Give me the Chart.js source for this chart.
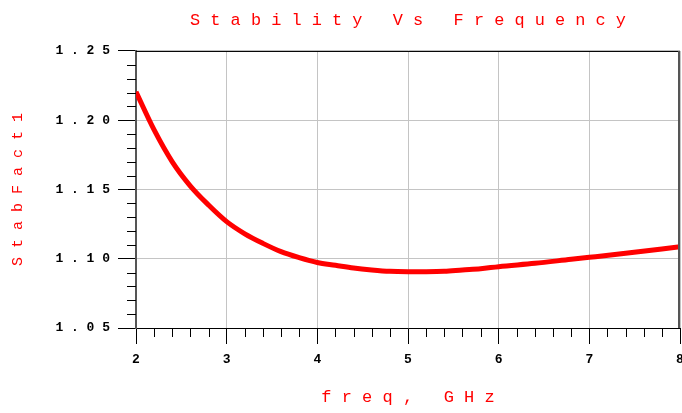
<!DOCTYPE html>
<html>
<head>
<meta charset="utf-8">
<script src="https://cdn.jsdelivr.net/npm/chart.js@4"></script>
<style>
  body { margin: 0; background: #fff; }
  #wrap { width: 682px; height: 413px; }
</style>
</head>
<body>
<div id="wrap"><canvas id="graficoStab"></canvas></div>
<script>
const titulo = 'Stability Vs Frequency';
const tituloX = 'freq, GHz';
const tituloY = 'StabFact1';

const freq = [2.0, 2.2, 2.4, 2.6, 2.8, 3.0, 3.2, 3.4, 3.6, 3.8, 4.0, 4.2, 4.4, 4.6, 4.8,
              5.0, 5.2, 5.4, 5.6, 5.8, 6.0, 6.4, 6.8, 7.0, 7.4, 8.0];
const stabFact1 = [1.2205, 1.1930, 1.1700, 1.1525, 1.1388, 1.1268, 1.1180, 1.1111, 1.1051, 1.1008,
                   1.0973, 1.0953, 1.0933, 1.0919, 1.0909, 1.0907, 1.0907, 1.0909, 1.0919, 1.0928,
                   1.0943, 1.0967, 1.0996, 1.1010, 1.1039, 1.1087];

const xMin = 2, xMax = 8, xStep = 1, xMinor = 0.2;
const yMin = 1.05, yMax = 1.25, yStep = 0.05, yMinor = 0.01;

// espaça as letras como no original
const espaca = s => s.split('').join(' ');

// ticks menores + bordas de cima e da direita
const moldura = {
    id: 'moldura',
    afterDraw(chart) {
        const { ctx, chartArea: a, scales: { x, y } } = chart;
        ctx.save();
        ctx.strokeStyle = '#000';
        ctx.lineWidth = 1;
        ctx.beginPath();
        for (let i = 1; i < Math.round((yMax - yMin) / yMinor); i++) {
            if (i % 5 === 0) continue;
            const py = Math.round(y.getPixelForValue(yMin + i * yMinor)) + 0.5;
            ctx.moveTo(a.left - 9, py);
            ctx.lineTo(a.left, py);
        }
        for (let i = 1; i < Math.round((xMax - xMin) / xMinor); i++) {
            if (i % 5 === 0) continue;
            const px = Math.round(x.getPixelForValue(xMin + i * xMinor)) + 0.5;
            ctx.moveTo(px, a.bottom);
            ctx.lineTo(px, a.bottom + 9);
        }
        ctx.stroke();
        ctx.beginPath();
        ctx.moveTo(a.left, a.top + 0.5);
        ctx.lineTo(a.right, a.top + 0.5);
        ctx.stroke();
        ctx.strokeStyle = '#555';
        ctx.lineWidth = 2;
        ctx.beginPath();
        ctx.moveTo(a.right - 1, a.top);
        ctx.lineTo(a.right - 1, a.bottom);
        ctx.stroke();
        ctx.restore();
    }
};

const graficoStab = new Chart(document.getElementById('graficoStab'), {
    type: 'line',
    data: {
        datasets: [{
            label: tituloY,
            data: freq.map((f, i) => ({ x: f, y: stabFact1[i] })),
            borderColor: '#ff0000',
            borderWidth: 5,
            pointRadius: 0,
            cubicInterpolationMode: 'monotone'
        }]
    },
    options: {
        responsive: true,
        maintainAspectRatio: false,
        animation: false,
        layout: { padding: { left: 0, right: 2, top: 0, bottom: 0 } },
        plugins: {
            legend: { display: false },
            tooltip: { enabled: false },
            title: {
                display: true,
                fullSize: false,
                text: espaca(titulo),
                color: '#ff0000',
                font: { family: 'Liberation Mono', size: 16.9, weight: 'normal' },
                padding: { top: 10, bottom: 20.7 }
            }
        },
        scales: {
            x: {
                type: 'linear',
                min: xMin, max: xMax,
                afterFit(s) { s.height = 85; s.paddingRight = 0; s.paddingLeft = 0; },
                border: { color: '#000', width: 1 },
                grid: { color: '#c4c4c4', tickColor: '#000', tickLength: 16, lineWidth: 1 },
                ticks: {
                    stepSize: xStep,
                    padding: 8,
                    color: '#000',
                    maxRotation: 0,
                    font: { family: 'Liberation Mono', size: 13, weight: 'bold' }
                },
                title: {
                    display: true,
                    text: espaca(tituloX),
                    color: '#ff0000',
                    font: { family: 'Liberation Mono', size: 17 },
                    padding: { top: 0, bottom: 5 }
                }
            },
            y: {
                min: yMin, max: yMax,
                afterFit(s) { s.width = 136; },
                border: { color: '#555', width: 2 },
                grid: { color: '#c4c4c4', tickColor: '#000', tickLength: 18, lineWidth: 1 },
                ticks: {
                    stepSize: yStep,
                    padding: 8,
                    color: '#000',
                    font: { family: 'Liberation Mono', size: 13, weight: 'bold' },
                    callback: v => espaca(v.toFixed(2))
                },
                title: {
                    display: true,
                    text: espaca(tituloY),
                    color: '#ff0000',
                    font: { family: 'Liberation Mono', size: 15 },
                    padding: { top: 9, bottom: 0 }
                }
            }
        }
    },
    plugins: [moldura]
});
</script>
</body>
</html>
